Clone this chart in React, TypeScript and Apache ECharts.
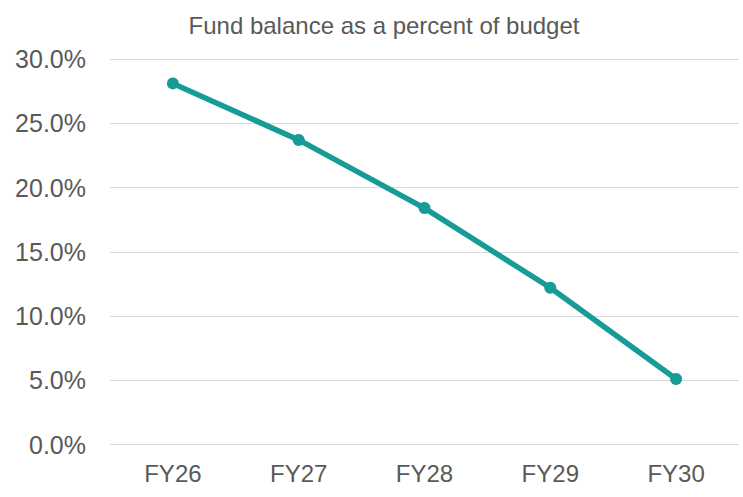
import React, { useEffect, useRef } from "react";
import * as echarts from "echarts";

const title = "Fund balance as a percent of budget";
const categories = ["FY26", "FY27", "FY28", "FY29", "FY30"];
const fundBalancePct = [28.1, 23.7, 18.4, 12.2, 5.1];
const yMin = 0;
const yMax = 30;
const yInterval = 5;

const FONT = "'Liberation Sans', Arial, Helvetica, sans-serif";
const TEXT = "#595959";
const LINE = "#169b97";

export default function App() {
  const ref = useRef<HTMLDivElement>(null);
  useEffect(() => {
    if (!ref.current) return;
    const chart = echarts.init(ref.current, undefined, { renderer: "svg" });
    chart.setOption({
      animation: false,
      backgroundColor: "#ffffff",
      title: {
        text: title,
        left: 379,
        textAlign: "center",
        top: 8,
        textStyle: { fontFamily: FONT, fontSize: 24, fontWeight: "normal", color: TEXT },
      },
      grid: { left: 110, right: 4, top: 59, bottom: 52.5, containLabel: false },
      xAxis: {
        type: "category",
        data: categories,
        boundaryGap: true,
        axisLine: { show: false },
        axisTick: { show: false },
        axisLabel: { fontFamily: FONT, fontSize: 24, color: TEXT, margin: 17 },
      },
      yAxis: {
        type: "value",
        min: yMin,
        max: yMax,
        interval: yInterval,
        axisLine: { show: false },
        axisTick: { show: false },
        splitLine: { lineStyle: { color: "#d9d9d9", width: 1 } },
        axisLabel: {
          fontFamily: FONT,
          fontSize: 25,
          color: TEXT,
          margin: 24,
          formatter: (v: number) => v.toFixed(1) + "%",
        },
      },
      series: [
        {
          type: "line",
          data: fundBalancePct,
          symbol: "circle",
          symbolSize: 12,
          lineStyle: { color: LINE, width: 5.5 },
          itemStyle: { color: LINE },
        },
      ],
    });
    return () => chart.dispose();
  }, []);
  return <div ref={ref} style={{ width: 743, height: 497, position: "fixed", left: 0, top: 0 }} />;
}
